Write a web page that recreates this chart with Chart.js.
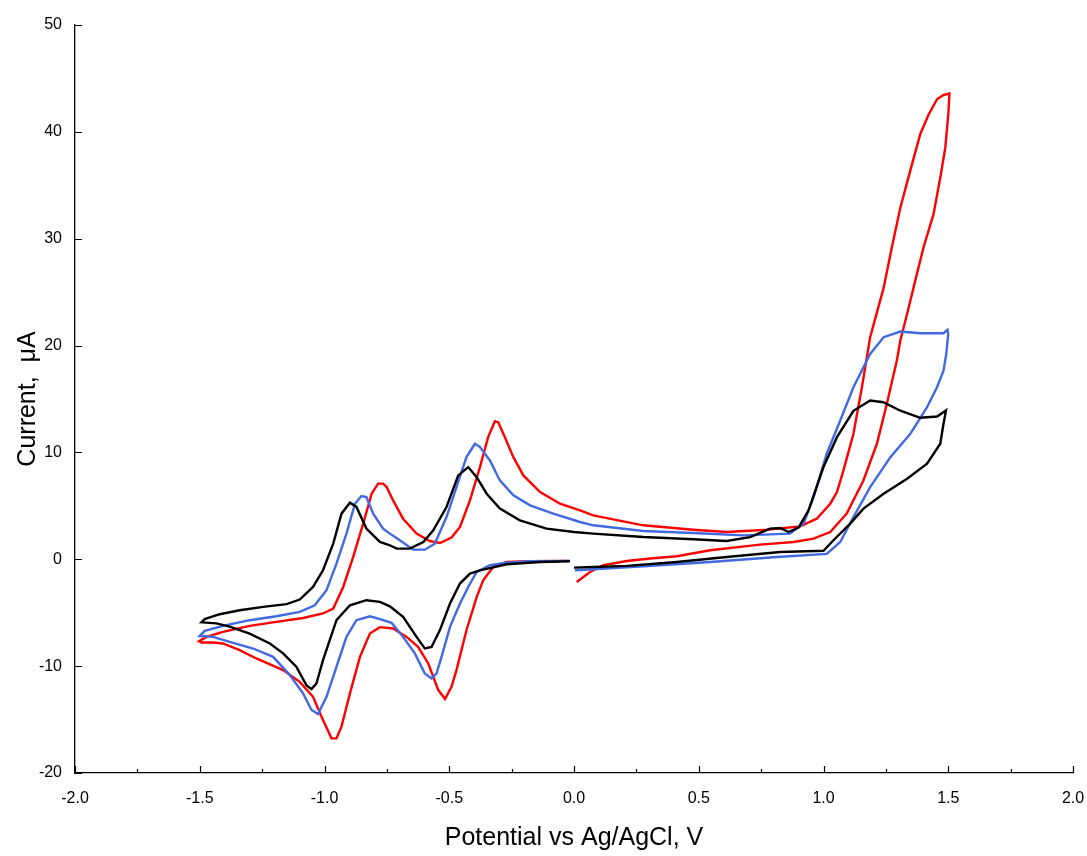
<!DOCTYPE html>
<html>
<head>
<meta charset="utf-8">
<script src="https://cdn.jsdelivr.net/npm/chart.js@4/dist/chart.umd.min.js"></script>
<style>
  body { margin: 0; background: #fff; }
  #wrap { width: 1087px; height: 856px; }
</style>
</head>
<body>
<div id="wrap"><canvas id="cv" width="1087" height="856"></canvas></div>
<script>
// axis ticks
const xTicks = [-2.0, -1.5, -1.0, -0.5, 0.0, 0.5, 1.0, 1.5, 2.0];
const xMinorTicks = [-1.75, -1.25, -0.75, -0.25, 0.25, 0.75, 1.25, 1.75];
const yTicks = [-20, -10, 0, 10, 20, 30, 40, 50];

// black trace: potential (V) and current (uA), in scan order
const blackV = [-0.016, -0.136, -0.27, -0.377, -0.417, -0.457, -0.497, -0.537, -0.571, -0.598, -0.631, -0.685, -0.738, -0.778, -0.832, -0.898, -0.952, -1.006, -1.032, -1.052, -1.072, -1.113, -1.166, -1.219, -1.30, -1.38, -1.433, -1.493,
  -1.48, -1.42, -1.34, -1.246, -1.152, -1.099, -1.046, -1.006, -0.965, -0.932, -0.898, -0.872, -0.832, -0.778, -0.738, -0.711, -0.658, -0.604, -0.564, -0.511, -0.464, -0.424, -0.39, -0.35, -0.297, -0.217, -0.11, 0.0, 0.077, 0.278, 0.478, 0.612, 0.706, 0.786, 0.826, 0.86, 0.90, 0.94, 1.0, 1.054, 1.12, 1.187, 1.24, 1.308, 1.388, 1.455, 1.491,
  1.481, 1.468, 1.415, 1.335, 1.241, 1.16, 1.107, 1.04, 1.0, 0.826, 0.612, 0.412, 0.211, 0.077, 0.0];
const blackI = [-0.19, -0.25, -0.47, -1.03, -1.34, -2.27, -4.14, -6.6, -8.2, -8.35, -7.26, -5.39, -4.4, -3.99, -3.83, -4.3, -5.7, -9.44, -11.6, -12.15, -11.8, -10.06, -8.8, -7.88, -6.95, -6.3, -6.0, -5.9,
  -5.6, -5.14, -4.77, -4.45, -4.2, -3.77, -2.59, -1.03, 1.46, 4.27, 5.3, 4.9, 2.87, 1.62, 1.31, 1.0, 1.0, 1.62, 2.71, 4.89, 7.85, 8.63, 7.69, 6.14, 4.74, 3.64, 2.87, 2.55, 2.4, 2.08, 1.87, 1.71, 2.08, 2.87, 2.93, 2.55, 2.96, 4.58, 8.63, 11.43, 13.9, 14.86, 14.7, 13.9, 13.24, 13.36, 13.93,
  12.68, 10.81, 8.94, 7.54, 6.14, 4.74, 3.34, 1.78, 0.8, 0.68, 0.22, -0.25, -0.62, -0.72, -0.78];

// blue trace
const blueV = [-0.02, -0.176, -0.27, -0.337, -0.39, -0.424, -0.457, -0.497, -0.531, -0.551, -0.571, -0.598, -0.638, -0.685, -0.731, -0.778, -0.818, -0.872, -0.912, -0.952, -0.992, -1.026, -1.052, -1.086, -1.139, -1.206, -1.286, -1.38, -1.447, -1.50,
  -1.48, -1.407, -1.30, -1.193, -1.099, -1.039, -0.992, -0.952, -0.912, -0.878, -0.852, -0.832, -0.805, -0.765, -0.738, -0.698, -0.645, -0.598, -0.558, -0.511, -0.471, -0.431, -0.397, -0.377, -0.337, -0.297, -0.243, -0.176, -0.083, 0.024, 0.077, 0.278, 0.478, 0.679, 0.866, 0.92, 0.96, 1.013, 1.067, 1.12, 1.187, 1.241, 1.308, 1.388, 1.481, 1.497,
  1.50, 1.492, 1.481, 1.455, 1.415, 1.348, 1.268, 1.187, 1.12, 1.067, 1.013, 0.813, 0.546, 0.278, 0.077, 0.004];
const blueI = [-0.15, -0.19, -0.31, -0.56, -1.18, -2.59, -4.14, -6.32, -9.13, -10.68, -11.15, -10.68, -8.81, -7.26, -5.95, -5.6, -5.33, -5.7, -7.26, -10.06, -12.87, -14.49, -14.1, -12.55, -10.84, -9.13, -8.35, -7.73, -7.26, -7.17,
  -6.7, -6.23, -5.7, -5.33, -4.92, -4.3, -2.9, -0.4, 2.4, 5.2, 5.92, 5.82, 4.27, 2.87, 2.4, 1.78, 0.9, 0.9, 1.46, 3.95, 6.76, 9.56, 10.81, 10.5, 9.25, 7.38, 5.98, 5.05, 4.27, 3.49, 3.18, 2.65, 2.46, 2.24, 2.4, 3.34, 5.8, 9.88, 12.99, 16.1, 19.22, 20.78, 21.31, 21.15, 21.15, 21.47,
  21.09, 19.22, 17.66, 16.1, 14.23, 11.74, 9.56, 6.76, 3.95, 1.62, 0.5, 0.22, -0.25, -0.65, -0.93, -1.03];

// red trace
const redV = [-0.016, -0.176, -0.27, -0.324, -0.364, -0.39, -0.431, -0.471, -0.491, -0.517, -0.544, -0.584, -0.625, -0.671, -0.725, -0.778, -0.818, -0.858, -0.898, -0.932, -0.952, -0.972, -1.006, -1.046, -1.099, -1.166, -1.273, -1.34, -1.407, -1.447, -1.493,
  -1.503, -1.473, -1.407, -1.30, -1.193, -1.086, -1.006, -0.965, -0.925, -0.885, -0.845, -0.811, -0.785, -0.765, -0.751, -0.725, -0.685, -0.631, -0.578, -0.537, -0.491, -0.457, -0.417, -0.377, -0.344, -0.317, -0.304, -0.277, -0.243, -0.203, -0.136, -0.056, 0.024, 0.077, 0.278, 0.478, 0.612, 0.773, 0.906, 0.973, 1.027, 1.054, 1.08, 1.12, 1.154, 1.187, 1.241, 1.274, 1.308, 1.348, 1.388, 1.421, 1.455, 1.481, 1.505,
  1.50, 1.488, 1.468, 1.441, 1.401, 1.368, 1.335, 1.308, 1.294, 1.254, 1.214, 1.16, 1.093, 1.027, 0.96, 0.88, 0.746, 0.546, 0.412, 0.305, 0.211, 0.118, 0.064, 0.011];
const redI = [-0.15, -0.19, -0.25, -0.72, -1.96, -3.52, -6.64, -10.37, -11.93, -13.08, -12.24, -9.75, -8.2, -7.26, -6.48, -6.35, -6.95, -9.13, -12.55, -15.67, -16.76, -16.76, -15.05, -12.87, -11.47, -10.37, -9.28, -8.5, -7.88, -7.79, -7.79,
  -7.66, -7.26, -6.79, -6.23, -5.86, -5.49, -5.07, -4.61, -2.59, 0.22, 3.34, 6.14, 7.08, 7.08, 6.76, 5.51, 3.8, 2.4, 1.71, 1.52, 2.03, 3.02, 5.51, 8.63, 11.43, 12.92, 12.83, 11.43, 9.56, 7.85, 6.29, 5.2, 4.58, 4.11, 3.18, 2.77, 2.55, 2.77, 3.08, 3.8, 5.2, 6.29, 8.32, 11.74, 16.1, 20.78, 25.4, 29.2, 32.9, 36.4, 39.8, 41.6, 43.05, 43.45, 43.58,
  41.6, 38.5, 35.7, 32.3, 29.2, 26.1, 22.96, 20.47, 18.6, 14.55, 10.81, 7.38, 4.27, 2.55, 1.93, 1.62, 1.37, 0.84, 0.28, 0.07, -0.16, -0.56, -1.19, -2.12];

const toPoints = (vs, is) => vs.map((v, i) => ({ x: v, y: is[i] }));

const FONT = '"Liberation Sans", Arial, sans-serif';

// draw the tick marks pointing into the plot, like the original
const innerTicks = {
    id: 'innerTicks',
    afterDraw(chart) {
        const { ctx, chartArea, scales: { x, y } } = chart;
        ctx.save();
        ctx.strokeStyle = '#000';
        ctx.lineWidth = 1.2;
        ctx.beginPath();
        xTicks.forEach(v => {
            const px = Math.round(x.getPixelForValue(v)) + 0.5;
            ctx.moveTo(px, chartArea.bottom);
            ctx.lineTo(px, chartArea.bottom - 7);
        });
        xMinorTicks.forEach(v => {
            const px = Math.round(x.getPixelForValue(v)) + 0.5;
            ctx.moveTo(px, chartArea.bottom);
            ctx.lineTo(px, chartArea.bottom - 4);
        });
        yTicks.forEach(v => {
            const py = Math.round(y.getPixelForValue(v)) + 0.5;
            ctx.moveTo(chartArea.left, py);
            ctx.lineTo(chartArea.left + 7, py);
        });
        ctx.stroke();
        ctx.restore();
    }
};

const lineSet = (vs, is, color) => ({
    data: toPoints(vs, is),
    borderColor: color,
    backgroundColor: color,
    borderWidth: 2.4,
    pointRadius: 0,
    showLine: true,
    tension: 0,
    fill: false
});

new Chart(document.getElementById('cv').getContext('2d'), {
    type: 'scatter',
    data: {
        datasets: [
            lineSet(blackV, blackI, '#000000'),
            lineSet(blueV, blueI, '#4169E1'),
            lineSet(redV, redI, '#FF0000')
        ]
    },
    options: {
        responsive: false,
        devicePixelRatio: 1,
        animation: false,
        layout: { padding: { left: 0, top: 25, right: 14, bottom: 0 } },
        plugins: { legend: { display: false }, tooltip: { enabled: false } },
        scales: {
            x: {
                type: 'linear',
                min: -2,
                max: 2,
                afterBuildTicks: s => { s.ticks = xTicks.map(v => ({ value: v })); },
                afterFit: s => { s.height = 83; s.paddingLeft = 0; s.paddingRight = 0; },
                grid: { display: false },
                border: { display: true, color: '#000', width: 1.3 },
                ticks: {
                    padding: 8,
                    color: '#000',
                    font: { family: FONT, size: 16 },
                    maxRotation: 0,
                    callback: v => v.toFixed(1)
                },
                title: {
                    display: true,
                    text: 'Potential vs Ag/AgCl, V',
                    color: '#000',
                    font: { family: FONT, size: 25 },
                    padding: { top: 3, bottom: 3 }
                }
            },
            y: {
                type: 'linear',
                min: -20,
                max: 50,
                afterBuildTicks: s => { s.ticks = yTicks.map(v => ({ value: v })); },
                afterFit: s => { s.width = 75; s.paddingTop = 0; s.paddingBottom = 0; },
                grid: { display: false },
                border: { display: true, color: '#000', width: 1.3 },
                ticks: {
                    padding: 5,
                    color: '#000',
                    font: { family: FONT, size: 16 },
                    callback: v => String(v)
                },
                title: {
                    display: true,
                    text: 'Current,  μA',
                    color: '#000',
                    font: { family: FONT, size: 25 },
                    padding: { top: 13, bottom: 13 }
                }
            }
        }
    },
    plugins: [innerTicks]
});
</script>
</body>
</html>
